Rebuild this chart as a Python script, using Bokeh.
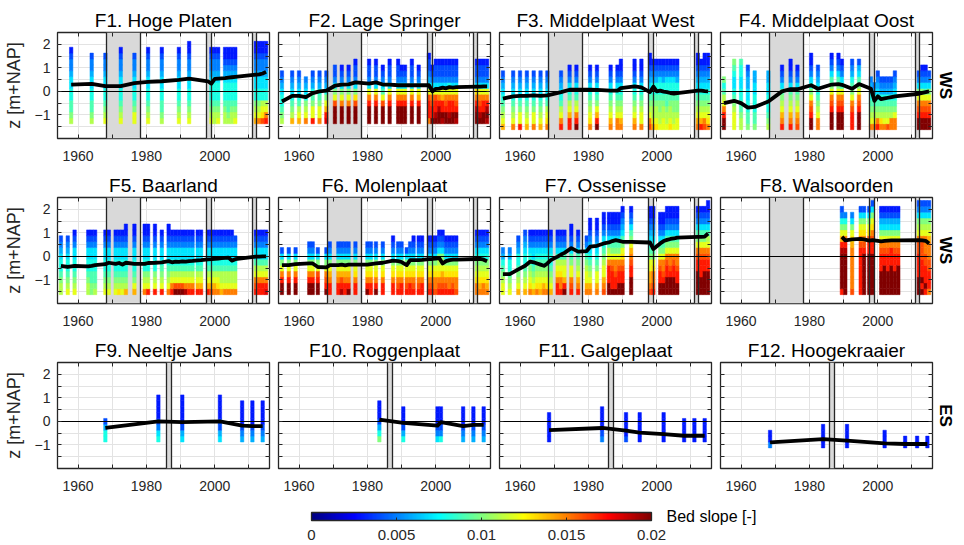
from bokeh.plotting import figure
from bokeh.layouts import column, row
from bokeh.models import (Range1d, FixedTicker, ColumnDataSource, LinearColorMapper,
                          ColorBar, Title, Label, CustomJSTickFormatter, LinearAxis)
from bokeh.transform import transform
from bokeh.embed import file_html
from bokeh.resources import INLINE

# ---------------- axes / shared settings ----------------
X_RANGE = (1954, 2016)
Y_RANGE = (-2.0, 2.5)
x_major = [1960, 1980, 2000]
x_minor = [1970, 1990, 2010]
y_major = [-1, 0, 1, 2]
y_minor = [-1.5, -0.5, 0.5, 1.5]
bin_height = 0.25           # vertical size of one elevation class [m]
slope_unit = 0.001          # one code step (base-36 digit) = 0.001 bed slope
slope_low, slope_high = 0.0, 0.02
cbar_ticks = [0, 0.005, 0.01, 0.015, 0.02]

ws_closure = (1968.4, 1978.4)                 # grey period (WS)
ws_marks = [(1997.7, 1998.95), (2010.9, 2012.1)]
es_marks = [(1986.0, 1987.3)]

# ---------------- data (codes: bottom->top, base-36 digit * 0.001 = slope) ----
F1_years = [1958, 1964, 1968, 1972.5, 1976.5, 1980.5, 1984.5, 1989.5, 1992.5,
            1999, 2000, 2001, 2003, 2004, 2005, 2006, 2012, 2013, 2014, 2015]
F1_zbot = -1.25
F1_codes = ["ba99887765543", "ba9988776554", "cba988776554", "cba9887765543", "cca988776554",
            "cba9887765543", "ba99887765543", "cba9887765543", "cba98877655433",
            "cba9888765543", "bba9888765543", "cba9888765543",
            "bba9888765433", "ba99888765433", "bba9888765433", "cba9888765433",
            "ecba8877655433", "fcba8877655433", "gdcb8877655433", "hfcb8877655433"]
F1_line_years = [1958, 1964, 1968, 1972.5, 1976.5, 1980.5, 1984.5, 1989.5, 1992.5, 1998,
                 1999, 2000, 2001, 2003, 2004, 2005, 2006, 2012, 2013, 2014, 2015]
F1_mean = [0.29, 0.32, 0.22, 0.22, 0.35, 0.4, 0.43, 0.49, 0.54, 0.43,
           0.33, 0.53, 0.54, 0.56, 0.58, 0.6, 0.62, 0.71, 0.72, 0.76, 0.83]

F2_years = [1955, 1958, 1960, 1962, 1964, 1966, 1968, 1970.5, 1972.5, 1974.5, 1976.5,
            1980.5, 1982.5, 1984.5, 1986.5, 1989, 1990, 1991, 1993, 1995, 1998, 1999,
            2000, 2001, 2002, 2003, 2004, 2005, 2006, 2012, 2013, 2014, 2015]
F2_zbot = -1.25
F2_codes = ["ba9887654", "eba987654", "ecb987654", "fcba8765", "hcca98654", "fcca98654",
            "iheca8654", "kkkgca7544", "kkkfca7543", "kkkfca7543", "kkkgda75443",
            "kkkhfc75443", "kkkhfc75443", "kkkgc97543", "kkkhfc75443", "kkkhfc75443",
            "kkkhfc7543", "kkkhfc7543", "kkkhfc75443", "kkkhec7543", "fhhhgc765443",
            "khhgfc7543", "kjhhgc75443", "kkjhfc75443", "jkhhec75443", "kkhgfc75443",
            "kjhhfc85443", "kkhhfc75443", "jkhgfc75443", "kkjhfd75443", "kjhgfc75443",
            "kkhhfc75443", "jkjhfc75443"]
F2_mean = [-0.43, -0.19, -0.19, -0.24, -0.07, 0.0, 0.03, 0.24, 0.29, 0.3, 0.38,
           0.33, 0.38, 0.29, 0.29, 0.26, 0.26, 0.26, 0.26, 0.26, 0.26, 0.0,
           0.11, 0.12, 0.16, 0.13, 0.18, 0.16, 0.18, 0.2, 0.2, 0.21, 0.21]

F3_years = [1955, 1958, 1960, 1962, 1964, 1966, 1968, 1972, 1974.5, 1976.5, 1980.5,
            1982.5, 1986.5, 1988.5, 1989.5, 1993.5, 1995.5, 1998, 1999, 2000, 2001,
            2002, 2003, 2004, 2005, 2006, 2012, 2013, 2014, 2015]
F3_zbot = -1.5
F3_codes = ["ecba987654", "fcba987654", "hcca987654", "ecba987654", "fcca987654",
            "ecba987654", "fdcb987654", "hfcb987654", "hhecb987543", "khfcb987543",
            "fdcba987543", "kheca987543", "fecba987543", "ffcba987543", "fecba9875433",
            "fecba9875433", "fccba9875433", "gfcba98765433", "ecbba9886543", "dcbba9886543",
            "cbbaa9887543", "ccbba9886543", "cbba99887543", "dcbba9887543", "cbbaa9887543",
            "ccbaa9886543", "fecba98765433", "hecba9876543", "gfcba98765433", "fdcba98765433"]
F3_mean = [-0.31, -0.21, -0.19, -0.19, -0.17, -0.19, -0.17, -0.03, 0.07, 0.07, 0.07,
           0.06, 0.03, 0.03, 0.14, 0.21, 0.17, -0.03, 0.2, 0.0, 0.03,
           -0.01, -0.03, -0.07, -0.09, -0.07, 0.03, 0.03, 0.01, 0.0]

F4_years = [1955, 1958, 1960, 1962, 1964, 1968, 1972, 1974.5, 1976.5, 1980.5, 1982.5,
            1986.5, 1988.5, 1989.5, 1992.5, 1994.5, 1998, 1999, 2000, 2001, 2002, 2003,
            2004, 2005, 2012, 2013, 2014, 2015]
F4_zbot = -1.5
F4_codes = ["kkhfcb98a", "cccba987789a", "bba998877889", "a9988776654", "a998887766",
            "ba98887766", "hfecba97543", "hfecba975433", "gfecba97543", "kkhgfca875433",
            "ffcba987654", "kkkhgfca97543", "kkkhgfca97543", "kkkhgfc97543", "hhhgfca98654",
            "kkkhgfca9764", "fcba98765", "fcba9865", "hfba987654", "fdba98654", "fcba98654",
            "gcba98654", "ffba98654", "ffca987654", "kkhgfca754", "kkhgfca7543",
            "kkhgfc97543", "kkhgfca754"]
F4_mean = [-0.5, -0.4, -0.5, -0.69, -0.66, -0.43, 0.0, 0.1, 0.09, 0.26, 0.11,
           0.29, 0.31, 0.28, 0.11, 0.31, 0.11, -0.4, -0.21, -0.33, -0.3, -0.27,
           -0.24, -0.21, -0.1, -0.06, -0.03, 0.0]

F5_years = [1955, 1957, 1959, 1963, 1964, 1965, 1968, 1969, 1971, 1972, 1973, 1974,
            1976.5, 1979.5, 1980.5, 1982.5, 1984.5, 1986.5, 1987.5, 1988.5, 1989.5,
            1990.5, 1991.5, 1992.5, 1993.5, 1995, 1996, 1998, 1999, 2000, 2001, 2002,
            2003, 2004, 2005, 2006, 2012, 2013, 2014, 2015]
F5_zbot = -1.5
F5_codes = ["bba9887654", "cba9887654", "cba98877543", "bba98877543", "aa998877543",
            "ba998877543", "cba98877543", "cba98877543", "cba98877543", "dba98877543",
            "cba98877543", "eba988775433", "eca988775433", "fcba88775433", "hcba88775433",
            "hcba88775433", "hcba9877543", "fcba98775433", "hfcb9877543", "kgcb9877543",
            "kgcb9877543", "kgcb9877543", "jfcb9877543", "hfcb9877543", "hfcb9877543",
            "hecb9877543", "hecb9877543", "hecb9877543", "gecb9877543", "fecb9877543",
            "fdcb9877543", "ecbb9877543", "fcbb9877543", "fcbb9877543", "fcbb9877543",
            "fcbb987754", "hgfcb977543", "hhfcb977543", "hhfcb977543", "ihfcb977543"]
F5_mean = [-0.4, -0.45, -0.4, -0.42, -0.4, -0.37, -0.33, -0.27, -0.32, -0.28, -0.35, -0.27,
           -0.32, -0.32, -0.28, -0.27, -0.25, -0.2, -0.25, -0.22, -0.23,
           -0.21, -0.22, -0.2, -0.19, -0.17, -0.16, -0.13, -0.12, -0.1, -0.09, -0.07,
           -0.06, -0.05, -0.18, -0.12, -0.01, -0.01, 0.0, 0.0]

F6_years = [1955, 1957, 1959, 1963, 1964, 1965.5, 1968, 1969, 1971.5, 1972.5, 1973.5,
            1974.5, 1976.5, 1980, 1981, 1982.5, 1984.5, 1987.5, 1989, 1990, 1991.5,
            1992.5, 1993.5, 1995, 1996, 1998, 1999, 2000, 2001, 2002, 2003, 2004, 2005,
            2006, 2012, 2013, 2014, 2015]
F6_zbot = -1.5
F6_codes = ["kkhfca74", "kkhfca74", "kkhfca74", "kkhfca754", "kkhfca754", "kkhgca74",
            "khgfca74", "hhfeca754", "hhfeca754", "jhgeca754", "hhfeca754", "khfeca754",
            "hhfdca754", "khfdca754", "hhfdca754", "khfdca754", "hhfdca754", "hhfdca7543",
            "hgfdca754", "hhfdca754", "hgfdca74", "hhfdca754", "hgfdca7543", "hgfdca7543",
            "hhfdca7543", "hgfdca7543", "hgfdca7543", "gffdca7543", "hgfdcba7543",
            "hgfecba7543", "hgfdca7543", "hffdca7543", "hgfdca7543", "gffdca7543",
            "ffdcba87543", "fedcba87543", "ffdcba87543", "fedcba87543"]
F6_mean = [-0.37, -0.37, -0.33, -0.3, -0.3, -0.45, -0.47, -0.37, -0.37, -0.35, -0.38,
           -0.35, -0.35, -0.35, -0.33, -0.3, -0.27, -0.18, -0.2, -0.24, -0.37,
           -0.16, -0.16, -0.16, -0.15, -0.12, -0.11, -0.09, -0.07, -0.3, -0.2, -0.16, -0.14,
           -0.14, -0.11, -0.11, -0.14, -0.21]

F7_years = [1955, 1957, 1959.5, 1961.5, 1963, 1964, 1965, 1966, 1967, 1968, 1969, 1971,
            1972, 1973, 1975, 1977, 1979.5, 1980.5, 1982.5, 1984.5, 1986, 1987, 1988,
            1989, 1990, 1992.5, 1998, 1999, 2001, 2002, 2003, 2004, 2005, 2006, 2012,
            2013, 2014, 2015]
F7_zbot = -1.5
F7_codes = ["ccba9865", "cba98865", "ecba988654", "ecba9887654", "fdcba987543",
            "ecba9877543", "fdcba987543", "edcba987543", "fecba987543", "fdcba987543",
            "ecba9887543", "hhfdcb97543", "hffdcb97543", "kheccb97543", "hgfcca975433",
            "hfecba97543", "feccba9754", "fecba98765433", "fecca98765433", "gfeccba9875433",
            "kkhhhfcb975433", "khhhgfca975433", "khhgffca975433", "kkhhgfca975433",
            "kkhhgfdca976543", "kkkhhgfeca97543", "gfeecca98765433", "hgffdca98765433",
            "kkhhgfca975433", "kkhgffca975433", "kkkhhgfca975433", "kkkhgffca975433",
            "kkkhhgfca975433", "kkhhgffca975433", "kkkkhhgfca97543", "kkkhhhgfca97543",
            "kkkkhhgfca97543", "kkkkhhgfcb975433"]
F7_mean = [-0.75, -0.75, -0.55, -0.4, -0.22, -0.25, -0.3, -0.35, -0.4, -0.3, -0.16, -0.01,
           0.08, 0.15, 0.35, 0.2, 0.22, 0.41, 0.45, 0.55, 0.59, 0.65, 0.69,
           0.66, 0.62, 0.62, 0.59, 0.31, 0.55, 0.65, 0.7, 0.74, 0.76, 0.8, 0.83,
           0.83, 0.84, 0.97]

F8_years = [1989.5, 1990.5, 1992.5, 1995, 1996, 1997.5, 1998.5, 2001, 2002, 2003, 2004,
            2005, 2006, 2012, 2013, 2014, 2015]
F8_zbot = -1.5
F8_codes = ["hkkkkkkjheca854", "kkkkkkkjhfca85", "gfffffffedca75", "hhhhhhhhgfdca74",
            "kkkkkkkhgfdca74", "kkkkkkkhhgdca74", "kkkkkkkhhgfdca74", "kkkkhhhgfca7643",
            "kkkkkhhgfca7643", "kkkkhhhgfca7643", "kkkkkhhhfca7643", "kkkkhhhgfca7643",
            "kkkkkhhgfca7643", "kkkhhhhggfcba754", "khkhhhgggfcba754", "hkhhhggfffcba754",
            "fhhhggfffecba754"]
F8_mean = [0.83, 0.68, 0.72, 0.74, 0.72, 0.67, 0.69, 0.64, 0.66, 0.67, 0.68,
           0.68, 0.68, 0.69, 0.68, 0.66, 0.55]

F9_years = [1968, 1983.5, 1990.5, 2001.5, 2008, 2011, 2014]
F9_zbot = -0.75
F9_codes = ["8864", "87543333", "76433333", "76443333", "6543333", "6543333", "6543333"]
F9_mean = [-0.28, 0.0, -0.03, 0.0, -0.18, -0.2, -0.2]

F10_years = [1983.5, 1990.5, 2000.5, 2001.5, 2008, 2011, 2014]
F10_zbot = -0.75
F10_codes = ["a864333", "864333", "754333", "854333", "654333", "654333", "654333"]
F10_mean = [0.07, -0.06, -0.18, -0.03, -0.2, -0.15, -0.15]

F11_years = [1968.5, 1984, 1991, 1995, 2002, 2008, 2011, 2014]
F11_zbot = -0.75
F11_codes = ["33333", "543333", "43333", "33333", "33333", "3333", "3333", "3333"]
F11_mean = [-0.37, -0.28, -0.39, -0.48, -0.54, -0.61, -0.61, -0.61]

F12_years = [1968.5, 1984, 1991, 2002, 2008, 2011.5, 2014.5]
F12_zbot = -1.0
F12_codes = ["533", "3333", "3333", "333", "33", "33", "33"]
F12_mean = [-0.89, -0.75, -0.82, -0.93, -0.96, -0.96, -0.96]

panels = [
    ("F1. Hoge Platen", F1_years, F1_zbot, F1_codes, F1_line_years, F1_mean, "WS"),
    ("F2. Lage Springer", F2_years, F2_zbot, F2_codes, F2_years, F2_mean, "WS"),
    ("F3. Middelplaat West", F3_years, F3_zbot, F3_codes, F3_years, F3_mean, "WS"),
    ("F4. Middelplaat Oost", F4_years, F4_zbot, F4_codes, F4_years, F4_mean, "WS"),
    ("F5. Baarland", F5_years, F5_zbot, F5_codes, F5_years, F5_mean, "WS"),
    ("F6. Molenplaat", F6_years, F6_zbot, F6_codes, F6_years, F6_mean, "WS"),
    ("F7. Ossenisse", F7_years, F7_zbot, F7_codes, F7_years, F7_mean, "WS"),
    ("F8. Walsoorden", F8_years, F8_zbot, F8_codes, F8_years, F8_mean, "WS"),
    ("F9. Neeltje Jans", F9_years, F9_zbot, F9_codes, F9_years, F9_mean, "ES"),
    ("F10. Roggenplaat", F10_years, F10_zbot, F10_codes, F10_years, F10_mean, "ES"),
    ("F11. Galgeplaat", F11_years, F11_zbot, F11_codes, F11_years, F11_mean, "ES"),
    ("F12. Hoogekraaier", F12_years, F12_zbot, F12_codes, F12_years, F12_mean, "ES"),
]

# ---------------- style ----------------
FONT = "Liberation Sans"
TXT = "#262626"
GRID = "#e3e3e3"
SHADE = "#d9d9d9"


def jet(n=256):
    pal = []
    for i in range(n):
        t = i / (n - 1)
        r = min(max(1.5 - abs(4 * t - 3), 0), 1)
        g = min(max(1.5 - abs(4 * t - 2), 0), 1)
        b = min(max(1.5 - abs(4 * t - 1), 0), 1)
        pal.append("#%02x%02x%02x" % (round(r * 255), round(g * 255), round(b * 255)))
    return pal


mapper = LinearColorMapper(palette=jet(), low=slope_low, high=slope_high)


def cell_source(years, zbot, codes):
    xs, ys, ss = [], [], []
    for yr, code in zip(years, codes):
        for i, ch in enumerate(code):
            xs.append(yr)
            ys.append(zbot + i * bin_height)
            ss.append(int(ch, 36) * slope_unit)
    return ColumnDataSource(dict(x=xs, y=ys, s=ss))


def style_ticks(ax):
    ax.axis_line_color = None
    ax.major_tick_in = 4
    ax.major_tick_out = 0
    ax.minor_tick_in = 4
    ax.minor_tick_out = 0
    ax.major_tick_line_color = TXT
    ax.minor_tick_line_color = TXT


def tick_only_axis(positions):
    ax = LinearAxis(ticker=FixedTicker(ticks=[], minor_ticks=positions))
    style_ticks(ax)
    ax.major_label_standoff = 0
    return ax


def make_panel(idx, spec):
    title, years, zbot, codes, lx, lz, basin = spec
    r, c = divmod(idx, 4)
    p = figure(frame_width=212, frame_height=106,
               x_range=Range1d(*X_RANGE), y_range=Range1d(*Y_RANGE),
               output_backend="svg", toolbar_location=None,
               min_border_left=57 if c == 0 else 5,
               min_border_right=31 if c == 3 else 4,
               min_border_top=32 if r == 0 else 27, min_border_bottom=32)
    p.title.text = title
    p.title.align = "center"
    p.title.text_font = FONT
    p.title.text_font_size = "19px"
    p.title.text_font_style = "normal"
    p.title.text_color = "black"
    p.title.standoff = 3

    xt = FixedTicker(ticks=x_major, minor_ticks=x_minor)
    yt = FixedTicker(ticks=y_major, minor_ticks=y_minor)
    p.xaxis.ticker = xt
    p.xgrid.ticker = xt
    p.ygrid.ticker = yt
    for g in (p.xgrid[0], p.ygrid[0]):
        g.grid_line_color = GRID
        g.minor_grid_line_color = GRID
        g.grid_line_width = 1
        g.minor_grid_line_width = 1

    xa, ya = p.xaxis[0], p.yaxis[0]
    style_ticks(xa)
    style_ticks(ya)
    xa.major_label_text_font = FONT
    xa.major_label_text_font_size = "14px"
    xa.major_label_text_color = TXT
    xa.major_label_standoff = 12

    if c == 0:
        ya.ticker = yt
        ya.major_label_text_font = FONT
        ya.major_label_text_font_size = "14px"
        ya.major_label_text_color = TXT
        ya.major_label_standoff = 7
        ya.axis_label = "z [m+NAP]"
        ya.axis_label_text_font = FONT
        ya.axis_label_text_font_size = "18px"
        ya.axis_label_text_font_style = "normal"
        ya.axis_label_text_color = TXT
        ya.axis_label_standoff = 8
    else:
        ya.ticker = FixedTicker(ticks=[], minor_ticks=sorted(y_major + y_minor))
        ya.major_label_standoff = 0

    # ticks on the top and right edges of the box
    p.add_layout(tick_only_axis(sorted(x_major + x_minor)), "above")
    p.add_layout(tick_only_axis(sorted(y_major + y_minor)), "right")

    p.outline_line_color = TXT
    p.outline_line_width = 1.3

    marks = ws_marks if basin == "WS" else es_marks
    edges = [m[0] for m in marks] + [m[1] for m in marks]
    if basin == "WS":
        p.vstrip(x0=[ws_closure[0]], x1=[ws_closure[1]], fill_color=SHADE, line_color=None)
        edges += list(ws_closure)
    p.vstrip(x0=[m[0] for m in marks], x1=[m[1] for m in marks],
             fill_color=SHADE, line_color=None)

    src = cell_source(years, zbot, codes)
    p.rect(x="x", y="y", width=1.0, height=bin_height, source=src,
           fill_color=transform("s", mapper), line_color=transform("s", mapper),
           line_width=0.5)

    p.vspan(x=edges, line_color=TXT, line_width=1.3)
    p.hspan(y=[0], line_color="black", line_width=1.2)
    p.line(lx, lz, line_color="black", line_width=3.8, line_join="round")

    if c == 3:
        p.add_layout(Title(text=basin, align="center", text_font=FONT,
                           text_font_size="17px", text_font_style="bold",
                           text_color="black", standoff=6), "right")
    return p


figs = [make_panel(i, s) for i, s in enumerate(panels)]

# ---------------- colour bar ----------------
cb = figure(frame_width=963, frame_height=44, min_border=0,
            x_range=Range1d(0, 1), y_range=Range1d(0, 1),
            x_axis_location=None, y_axis_location=None,
            output_backend="svg", toolbar_location=None)
cb.outline_line_color = None
cb.grid.grid_line_color = None
color_bar = ColorBar(color_mapper=mapper, orientation="horizontal",
                     location=(311, 2), width=340, height=8, padding=0, margin=0,
                     ticker=FixedTicker(ticks=cbar_ticks),
                     formatter=CustomJSTickFormatter(code="return tick.toString()"),
                     major_label_text_font=FONT, major_label_text_font_size="15px",
                     major_label_text_color=TXT, label_standoff=9,
                     bar_line_color=TXT, bar_line_width=1.3,
                     major_tick_line_color=TXT, major_tick_in=3, major_tick_out=0,
                     background_fill_color=None)
cb.add_layout(color_bar, "center")
cb.add_layout(Label(x=666, y=28, x_units="screen", y_units="screen",
                    text="Bed slope [-]", text_font=FONT, text_font_size="16px",
                    text_baseline="middle", text_color="black"))

layout = column(row(*figs[0:4]), row(*figs[4:8]), row(*figs[8:12]), cb)

with open("out.html", "w") as f:
    f.write(file_html(layout, INLINE))
